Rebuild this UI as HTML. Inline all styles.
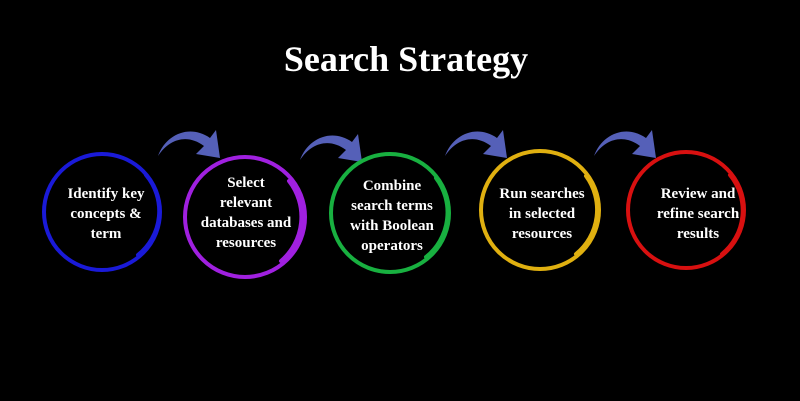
<!DOCTYPE html>
<html><head><style>
body{margin:0;background:#000;}
svg{display:block}
text{font-family:"Liberation Serif",serif;font-weight:bold;fill:#fff;text-anchor:middle}
</style></head><body>
<svg width="800" height="401" viewBox="0 0 800 401">
<rect width="800" height="401" fill="#000"/>
<text x="406" y="71" font-size="36">Search Strategy</text>
<defs>
<path id="arr" d="M0,28 C8,6 32,-4 52,10 L58,2 L62,30 L38,26 L46,18 C30,6 12,10 0,28 Z" fill="#5560b8"/>
</defs>
<use href="#arr" x="158" y="128"/>
<use href="#arr" x="300" y="132"/>
<use href="#arr" x="445" y="128"/>
<use href="#arr" x="594" y="128"/>
<g fill="none" stroke-linecap="round">
<circle cx="102" cy="212" r="58" stroke="#1a1ad8" stroke-width="4"/>
<path d="M146,175 A56,56 0 0 1 138,255" stroke="#1a1ad8" stroke-width="4"/>
<circle cx="245" cy="217" r="60" stroke="#a020e0" stroke-width="4"/>
<path d="M289,181 A58,58 0 0 1 281,261" stroke="#a020e0" stroke-width="4"/>
<circle cx="390" cy="213" r="59" stroke="#18b040" stroke-width="4"/>
<path d="M436,178 A57,57 0 0 1 426,257" stroke="#18b040" stroke-width="4"/>
<circle cx="540" cy="210" r="59" stroke="#e0b010" stroke-width="4"/>
<path d="M586,176 A57,57 0 0 1 576,254" stroke="#e0b010" stroke-width="4"/>
<circle cx="686" cy="210" r="58" stroke="#d81010" stroke-width="4"/>
<path d="M730,175 A56,56 0 0 1 722,254" stroke="#d81010" stroke-width="4"/>
</g>
<g font-size="15">
<text x="106" y="198">Identify key</text>
<text x="106" y="218">concepts &amp;</text>
<text x="106" y="238">term</text>
<text x="246" y="187">Select</text>
<text x="246" y="207">relevant</text>
<text x="246" y="227">databases and</text>
<text x="246" y="247">resources</text>
<text x="392" y="190">Combine</text>
<text x="392" y="210">search terms</text>
<text x="392" y="230">with Boolean</text>
<text x="392" y="250">operators</text>
<text x="542" y="198">Run searches</text>
<text x="542" y="218">in selected</text>
<text x="542" y="238">resources</text>
<text x="698" y="198">Review and</text>
<text x="698" y="218">refine search</text>
<text x="698" y="238">results</text>
</g>
</svg>
</body></html>
